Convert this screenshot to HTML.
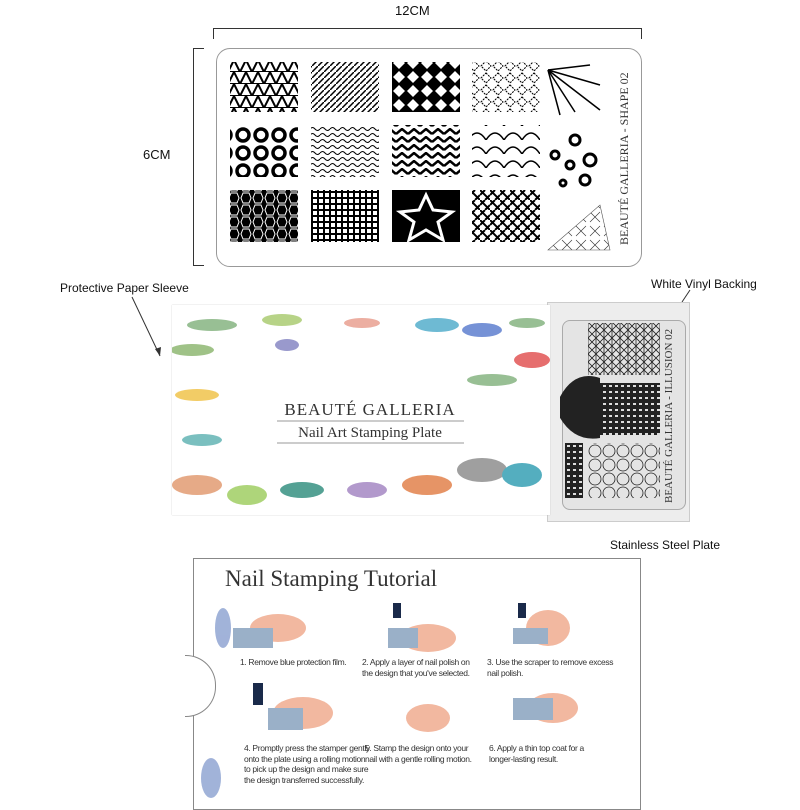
<!DOCTYPE html>
<html><head><meta charset="utf-8"><style>
body{margin:0;width:800px;height:800px;background:#fff;position:relative;overflow:hidden;font-family:"Liberation Sans",sans-serif;color:#111}
.a{position:absolute}
.t{position:absolute;font-size:8.5px;color:#333;line-height:10.5px;letter-spacing:-0.35px;white-space:nowrap}
</style></head><body>
<div class="a" style="left:395px;top:3px;font-size:13px">12CM</div>
<div class="a" style="left:213px;top:28px;width:427px;height:10px;border:1px solid #333;border-bottom:none"></div>
<div class="a" style="left:143px;top:147px;font-size:13px">6CM</div>
<div class="a" style="left:193px;top:48px;width:10px;height:216px;border:1px solid #333;border-right:none"></div>

<div class="a" style="left:216px;top:48px;width:424px;height:217px;border:1px solid #999;border-radius:14px;background:#fff"></div>
<svg class="a" style="left:0;top:0" width="800" height="800">
<defs>
<pattern id="p1" width="12" height="12" patternUnits="userSpaceOnUse"><polygon points="0,12 6,0 12,12" fill="none" stroke="#000" stroke-width="2"/></pattern>
<pattern id="p2" width="6" height="6" patternUnits="userSpaceOnUse"><line x1="0" y1="6" x2="6" y2="0" stroke="#000" stroke-width="1.5"/></pattern>
<pattern id="p3" width="14" height="14" patternUnits="userSpaceOnUse"><rect width="14" height="14" fill="#000"/><polygon points="7,1 13,7 7,13 1,7" fill="#fff"/></pattern>
<pattern id="p4" width="12" height="12" patternUnits="userSpaceOnUse"><polygon points="6,1 11,6 6,11 1,6" fill="none" stroke="#000" stroke-dasharray="2 1"/></pattern>
<pattern id="p5" width="18" height="18" patternUnits="userSpaceOnUse"><circle cx="9" cy="9" r="6" fill="none" stroke="#000" stroke-width="3.5"/></pattern>
<pattern id="p6" width="10" height="6" patternUnits="userSpaceOnUse"><path d="M0,3 Q2.5,0 5,3 T10,3" fill="none" stroke="#000"/></pattern>
<pattern id="p7" width="12" height="8" patternUnits="userSpaceOnUse"><path d="M0,6 L6,1 L12,6" fill="none" stroke="#000" stroke-width="2.5"/></pattern>
<pattern id="p8" width="18" height="14" patternUnits="userSpaceOnUse"><path d="M0,14 Q9,0 18,14" fill="none" stroke="#000" stroke-width="1.5"/></pattern>
<pattern id="p9" width="12" height="12" patternUnits="userSpaceOnUse"><rect width="12" height="12" fill="#000"/><polygon points="3,1 9,1 11,6 9,11 3,11 1,6" fill="none" stroke="#fff"/></pattern>
<pattern id="p10" width="6" height="6" patternUnits="userSpaceOnUse"><rect width="6" height="6" fill="#000"/><rect x="1" y="1" width="4" height="4" fill="#fff"/></pattern>
<pattern id="p11" width="10" height="10" patternUnits="userSpaceOnUse"><path d="M0,5 L5,0 M5,10 L10,5 M0,0 L10,10" stroke="#000" stroke-width="2"/></pattern>
<pattern id="p12" width="14" height="14" patternUnits="userSpaceOnUse"><path d="M2,2 L12,12 M12,2 L2,12" stroke="#333" stroke-width="0.6"/></pattern>
</defs>
<rect x="230" y="62" width="68" height="50" fill="url(#p1)"/>
<rect x="311" y="62" width="68" height="50" fill="url(#p2)"/>
<rect x="392" y="62" width="68" height="50" fill="url(#p3)"/>
<rect x="472" y="62" width="68" height="50" fill="url(#p4)"/>
<g stroke="#000" stroke-width="1.5"><line x1="548" y1="70" x2="600" y2="110"/><line x1="548" y1="70" x2="560" y2="115"/><line x1="548" y1="70" x2="590" y2="65"/><line x1="548" y1="70" x2="575" y2="112"/><line x1="548" y1="70" x2="600" y2="85"/></g>
<rect x="230" y="125" width="68" height="52" fill="url(#p5)"/>
<rect x="311" y="125" width="68" height="52" fill="url(#p6)"/>
<rect x="392" y="125" width="68" height="52" fill="url(#p7)"/>
<rect x="472" y="125" width="68" height="52" fill="url(#p8)"/>
<g fill="none" stroke="#000" stroke-width="3"><circle cx="575" cy="140" r="5"/><circle cx="555" cy="155" r="4"/><circle cx="590" cy="160" r="6"/><circle cx="570" cy="165" r="4"/><circle cx="585" cy="180" r="5"/><circle cx="563" cy="183" r="3"/></g>
<rect x="230" y="190" width="68" height="52" fill="url(#p9)"/>
<rect x="311" y="190" width="68" height="52" fill="url(#p10)"/>
<rect x="392" y="190" width="68" height="52" fill="#000"/>
<polygon points="426,195 433,210 452,212 438,222 443,240 426,230 409,240 414,222 400,212 419,210" fill="none" stroke="#fff" stroke-width="3"/>
<rect x="472" y="190" width="68" height="52" fill="url(#p11)"/>
<polygon points="548,250 600,205 610,250" fill="url(#p12)" stroke="#555" stroke-width="0.6"/>
<text transform="translate(628,245) rotate(-90)" font-family="Liberation Serif" font-size="12" fill="#333">BEAUTÉ GALLERIA - SHAPE 02</text>
<line x1="132" y1="297" x2="160" y2="356" stroke="#333"/><polygon points="160,356 155,349 161,347" fill="#333"/>
<line x1="690" y1="290" x2="682" y2="302" stroke="#333"/>
<line x1="652" y1="520" x2="648" y2="510" stroke="#333"/>
</svg>

<div class="a" style="left:60px;top:281px;font-size:12px">Protective Paper Sleeve</div>
<div class="a" style="left:651px;top:277px;font-size:12px">White Vinyl Backing</div>

<div class="a" style="left:547px;top:302px;width:141px;height:218px;background:#ededed;border:1px solid #ccc"></div>
<div class="a" style="left:562px;top:320px;width:122px;height:188px;background:#e4e4e4;border-radius:8px;border:1px solid #aaa"></div>
<svg class="a" style="left:560px;top:318px" width="130" height="195">
<defs><pattern id="q" width="8" height="8" patternUnits="userSpaceOnUse"><path d="M0,0 L8,8 M8,0 L0,8 M4,0 V8" stroke="#222" stroke-width="0.8"/></pattern>
<pattern id="q2" width="6" height="6" patternUnits="userSpaceOnUse"><rect width="6" height="6" fill="#222"/><rect x="1" y="1" width="3" height="2" fill="#ddd"/></pattern>
<pattern id="q3" width="14" height="14" patternUnits="userSpaceOnUse"><circle cx="7" cy="7" r="6" fill="none" stroke="#222" stroke-width="0.8"/></pattern></defs>
<rect x="28" y="5" width="72" height="52" fill="url(#q)"/>
<rect x="28" y="65" width="72" height="52" fill="url(#q2)"/>
<rect x="28" y="125" width="72" height="55" fill="url(#q3)"/>
<rect x="5" y="125" width="18" height="55" fill="url(#q2)"/>
<path d="M-5,90 Q10,50 40,60 L40,120 Q10,125 -5,90Z" fill="#222"/>
<text transform="translate(112,185) rotate(-90)" font-family="Liberation Serif" font-size="11" fill="#333">BEAUTÉ GALLERIA - ILLUSION 02</text>
</svg>
<div class="a" style="left:172px;top:305px;width:378px;height:210px;background:#fff;box-shadow:0 0 1px #bbb"></div>
<svg class="a" style="left:172px;top:305px" width="378" height="210">
<g opacity="0.8">
<ellipse cx="40" cy="20" rx="25" ry="6" fill="#7fb07a"/><ellipse cx="110" cy="15" rx="20" ry="6" fill="#a6c96a"/><ellipse cx="190" cy="18" rx="18" ry="5" fill="#e89a8a"/>
<ellipse cx="265" cy="20" rx="22" ry="7" fill="#4aa9c9"/><ellipse cx="310" cy="25" rx="20" ry="7" fill="#5577cc"/><ellipse cx="355" cy="18" rx="18" ry="5" fill="#7fb07a"/>
<ellipse cx="20" cy="45" rx="22" ry="6" fill="#88b36a"/><ellipse cx="25" cy="90" rx="22" ry="6" fill="#f0c040"/><ellipse cx="30" cy="135" rx="20" ry="6" fill="#5ab0b0"/>
<ellipse cx="25" cy="180" rx="25" ry="10" fill="#e0956a"/><ellipse cx="75" cy="190" rx="20" ry="10" fill="#9acb5a"/><ellipse cx="130" cy="185" rx="22" ry="8" fill="#2a8a7a"/>
<ellipse cx="195" cy="185" rx="20" ry="8" fill="#a080c0"/><ellipse cx="255" cy="180" rx="25" ry="10" fill="#e07a40"/><ellipse cx="310" cy="165" rx="25" ry="12" fill="#888"/>
<ellipse cx="350" cy="170" rx="20" ry="12" fill="#2a9ab0"/><ellipse cx="360" cy="55" rx="18" ry="8" fill="#e04a4a"/><ellipse cx="320" cy="75" rx="25" ry="6" fill="#7fb07a"/>
<ellipse cx="115" cy="40" rx="12" ry="6" fill="#8080c0"/>
</g>
<text x="198" y="110" text-anchor="middle" font-family="Liberation Serif" font-size="17" letter-spacing="1" fill="#333">BEAUTÉ GALLERIA</text>
<line x1="105" y1="116" x2="292" y2="116" stroke="#777" stroke-width="0.7"/>
<text x="198" y="132" text-anchor="middle" font-family="Liberation Serif" font-size="15" fill="#333">Nail Art Stamping Plate</text>
<line x1="105" y1="138" x2="292" y2="138" stroke="#777" stroke-width="0.7"/>
</svg>
<div class="a" style="left:610px;top:538px;font-size:12px">Stainless Steel Plate</div>

<div class="a" style="left:193px;top:558px;width:446px;height:250px;border:1px solid #888;background:#fff"></div>
<div class="a" style="left:185px;top:655px;width:30px;height:60px;border-radius:0 30px 30px 0;border:1px solid #888;border-left:none;background:#fff"></div>
<div class="a" style="left:225px;top:566px;font-size:23px;font-family:'Liberation Serif',serif;color:#333">Nail Stamping Tutorial</div>
<svg class="a" style="left:193px;top:558px" width="447" height="242">
<g fill="#f2b8a0"><ellipse cx="85" cy="70" rx="28" ry="14"/><ellipse cx="235" cy="80" rx="28" ry="14"/><ellipse cx="355" cy="70" rx="22" ry="18"/><ellipse cx="110" cy="155" rx="30" ry="16"/><ellipse cx="235" cy="160" rx="22" ry="14"/><ellipse cx="360" cy="150" rx="25" ry="15"/></g>
<g fill="#9ab0c8"><rect x="40" y="70" width="40" height="20"/><rect x="195" y="70" width="30" height="20"/><rect x="320" y="70" width="35" height="16"/><rect x="75" y="150" width="35" height="22"/><rect x="320" y="140" width="40" height="22"/></g>
<g fill="#1a2a4a"><rect x="200" y="45" width="8" height="15"/><rect x="325" y="45" width="8" height="15"/><rect x="60" y="125" width="10" height="22"/></g>
<g fill="#8aa0d0" opacity="0.8"><ellipse cx="18" cy="220" rx="10" ry="20"/><ellipse cx="30" cy="70" rx="8" ry="20"/></g>
</svg>
<div class="t" style="left:240px;top:657px">1. Remove blue protection film.</div>
<div class="t" style="left:362px;top:657px">2. Apply a layer of nail polish on<br>the design that you've selected.</div>
<div class="t" style="left:487px;top:657px">3. Use the scraper to remove excess<br>nail polish.</div>
<div class="t" style="left:244px;top:743px">4. Promptly press the stamper gently<br>onto the plate using a rolling motion<br>to pick up the design and make sure<br>the design transferred successfully.</div>
<div class="t" style="left:365px;top:743px">5. Stamp the design onto your<br>nail with a gentle rolling motion.</div>
<div class="t" style="left:489px;top:743px">6. Apply a thin top coat for a<br>longer-lasting result.</div>
</body></html>
